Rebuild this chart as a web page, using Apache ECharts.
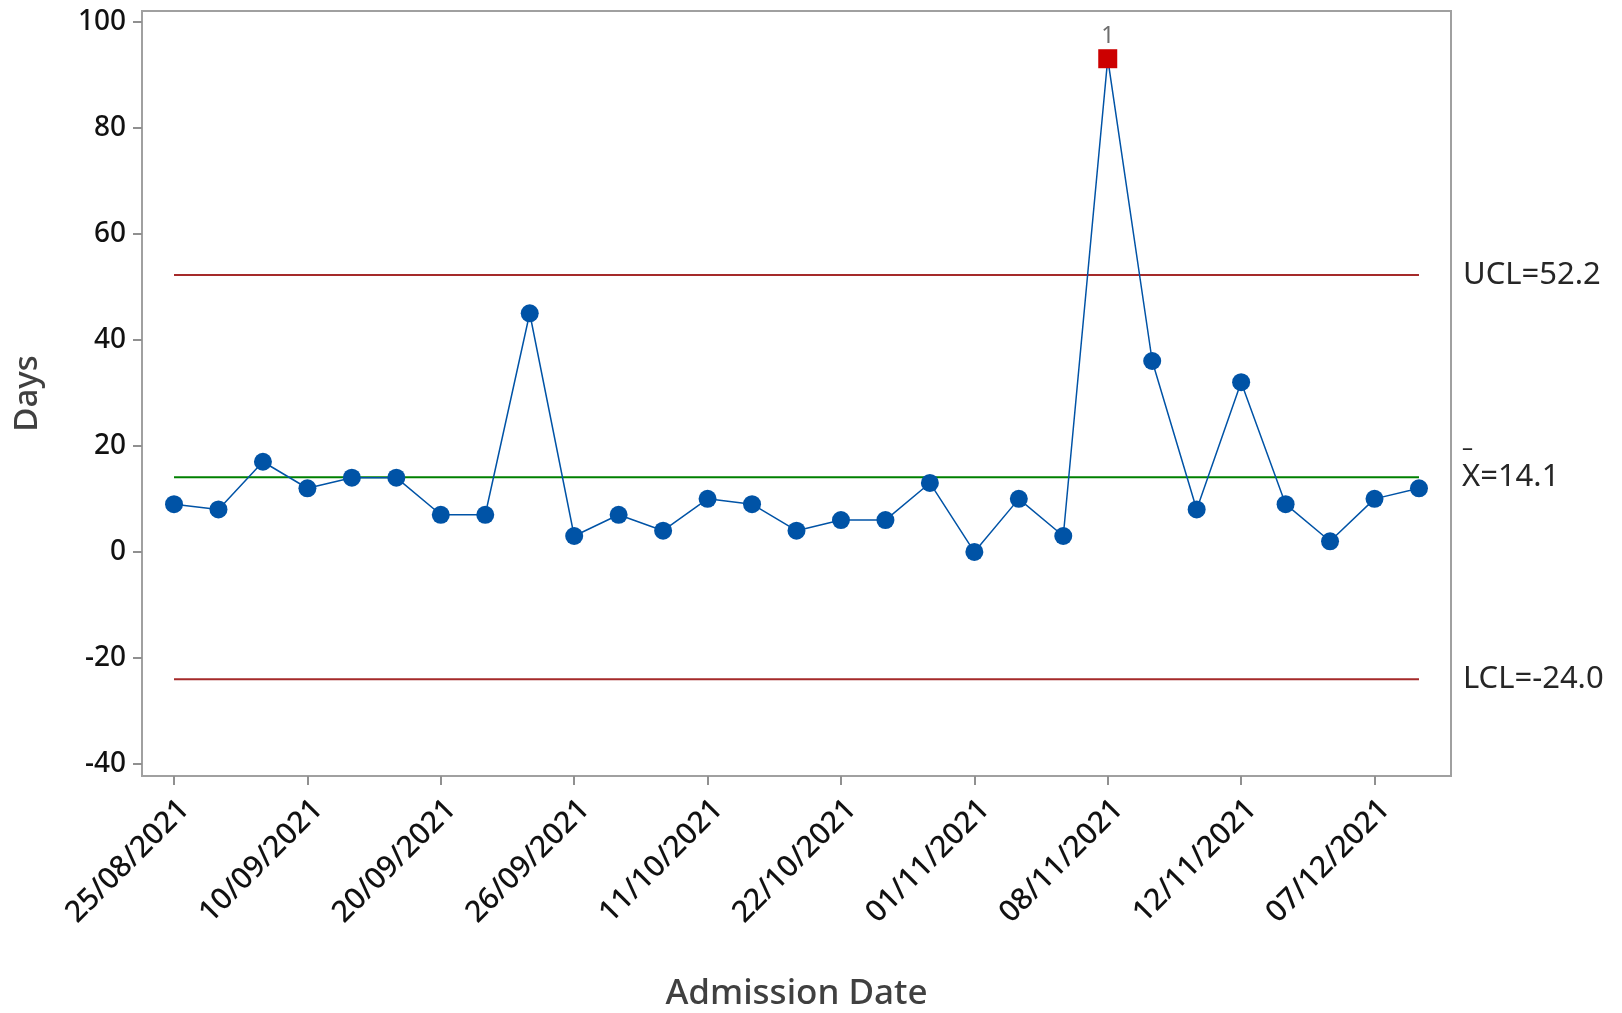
<!DOCTYPE html>
<html>
<head>
<meta charset="utf-8">
<script src="https://cdn.jsdelivr.net/npm/echarts@6/dist/echarts.min.js"></script>
<style>
html,body{margin:0;padding:0;background:#fff;}
#chart{width:1622px;height:1013px;}
</style>
</head>
<body>
<div id="chart"></div>
<script>
// ---- data ----
const values = [9, 8, 17, 12, 14, 14, 7, 7, 45, 3, 7, 4, 10, 9, 4, 6, 6, 13, 0, 10, 3, 93, 36, 8, 32, 9, 2, 10, 12];
const tickIndex = [0, 3, 6, 9, 12, 15, 18, 21, 24, 27];
const tickLabels = ['25/08/2021', '10/09/2021', '20/09/2021', '26/09/2021', '11/10/2021',
                    '22/10/2021', '01/11/2021', '08/11/2021', '12/11/2021', '07/12/2021'];
const yTicks = [-40, -20, 0, 20, 40, 60, 80, 100];
const UCL = 52.2;
const CENTER = 14.1;
const LCL = -24.0;

const FONT = 'Noto Sans';
const lastIdx = values.length - 1;

const pointData = values.map((v, i) => {
  const out = v > UCL || v < LCL;
  const d = { value: [i, v] };
  if (out) {
    d.symbol = 'rect';
    d.symbolSize = 19;
    d.itemStyle = { color: '#cc0000' };
    d.label = { show: true, position: 'top', formatter: '1', color: '#6e6e6e',
                fontSize: 23, fontFamily: FONT, distance: 1 };
  }
  return d;
});

function limitSeries(val, color, labelText, rich) {
  return {
    type: 'line',
    data: [[0, val], [lastIdx, val]],
    symbol: 'none',
    silent: true,
    z: 1,
    lineStyle: { color: color, width: 2 },
    endLabel: rich ? rich : {
      show: true, formatter: labelText, distance: 44,
      color: '#262626', fontSize: 31, fontFamily: FONT
    }
  };
}

const chart = echarts.init(document.getElementById('chart'));
chart.setOption({
  animation: false,
  backgroundColor: '#ffffff',
  grid: { left: 142, top: 11, right: 171, bottom: 237, show: true,
          containLabel: false, outerBoundsMode: 'none',
          borderColor: '#a0a0a0', borderWidth: 2, backgroundColor: 'transparent' },
  xAxis: {
    type: 'value', min: -0.72, max: 28.72,
    name: 'Admission Date', nameLocation: 'middle', nameGap: 201,
    nameTextStyle: { fontSize: 35, color: '#404040', fontFamily: FONT, fontWeight: 500 },
    axisLine: { show: true, onZero: false, lineStyle: { color: '#a0a0a0', width: 2 } },
    axisTick: { show: true, customValues: tickIndex, length: 9, lineStyle: { color: '#909090', width: 2 } },
    axisLabel: {
      customValues: tickIndex, rotate: 45, margin: 18, verticalAlign: 'top',
      fontSize: 30, color: '#111', fontFamily: FONT, fontWeight: 500,
      formatter: v => tickLabels[tickIndex.indexOf(Math.round(v))] || ''
    },
    splitLine: { show: false }
  },
  yAxis: {
    type: 'value', min: -42.26, max: 102.0,
    name: 'Days', nameLocation: 'middle', nameGap: 98,
    nameTextStyle: { fontSize: 33, color: '#404040', fontFamily: FONT, fontWeight: 500 },
    axisLine: { show: true, onZero: false, lineStyle: { color: '#a0a0a0', width: 2 } },
    axisTick: { show: true, customValues: yTicks, length: 9, lineStyle: { color: '#909090', width: 2 } },
    axisLabel: { customValues: yTicks, margin: 16, fontSize: 28, color: '#111', fontFamily: FONT, fontWeight: 500 },
    splitLine: { show: false }
  },
  series: [
    limitSeries(UCL, '#a52a2a', 'UCL=' + UCL.toFixed(1)),
    limitSeries(LCL, '#a52a2a', 'LCL=' + LCL.toFixed(1)),
    limitSeries(CENTER, '#008000', null, {
      show: true, distance: 43,
      formatter: '{bar|\u2013}\n{t|X=' + CENTER.toFixed(1) + '}',
      padding: [0, 0, 22, 0],
      rich: {
        bar: { fontSize: 22, lineHeight: 22, color: '#262626', fontFamily: FONT, align: 'left' },
        t: { fontSize: 31, lineHeight: 34, color: '#262626', fontFamily: FONT, align: 'left' }
      }
    }),
    {
      type: 'line',
      data: pointData,
      symbol: 'circle',
      symbolSize: 18,
      z: 3,
      itemStyle: { color: '#0053a6' },
      lineStyle: { color: '#0053a6', width: 1.5 }
    }
  ]
});
</script>
</body>
</html>
